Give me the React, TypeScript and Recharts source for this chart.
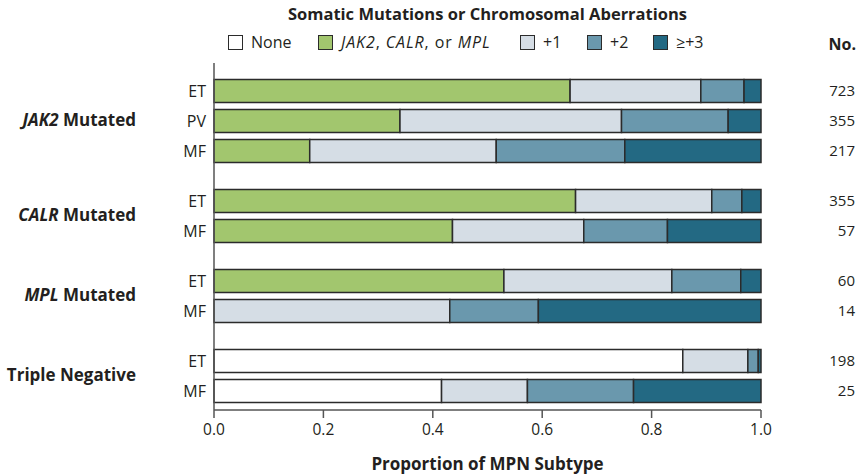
import React from 'react'
import { Bar, BarChart, XAxis, YAxis } from 'recharts'

// rows, top to bottom
const subtypes = ['ET', 'PV', 'MF', 'ET', 'MF', 'ET', 'MF', 'ET', 'MF']
const groupOf = [0, 0, 0, 1, 1, 2, 2, 3, 3]
const counts = [723, 355, 217, 355, 57, 60, 14, 198, 25]

const noneValues = [0, 0, 0, 0, 0, 0, 0, 0.857, 0.416]
const driverValues = [0.651, 0.34, 0.175, 0.661, 0.436, 0.53, 0, 0, 0]
const plus1Values = [0.239, 0.405, 0.341, 0.249, 0.24, 0.307, 0.431, 0.119, 0.157]
const plus2Values = [0.079, 0.195, 0.235, 0.055, 0.153, 0.126, 0.162, 0.019, 0.194]
const plus3Values = [0.031, 0.06, 0.249, 0.035, 0.171, 0.037, 0.407, 0.005, 0.233]

const xTicks = [0, 0.2, 0.4, 0.6, 0.8, 1.0]

const palette = {
  none: '#ffffff',
  driver: '#a2c66e',
  plus1: '#d5dde5',
  plus2: '#6a98ad',
  plus3: '#236983',
  edge: '#2b2b2b',
  axis: '#555555',
  ink: '#231f20',
}

const font = '"Open Sans", "Noto Sans", sans-serif'
const groupGap = 2 / 3

const rows = subtypes.map((subtype, i) => ({
  pos: i + groupOf[i] * groupGap,
  subtype,
  count: counts[i],
  none: noneValues[i],
  driver: driverValues[i],
  plus1: plus1Values[i],
  plus2: plus2Values[i],
  plus3: plus3Values[i],
}))

const positions = rows.map((r) => r.pos)

const series = [
  { key: 'none', color: palette.none, left: 228, label: <>None</> },
  {
    key: 'driver',
    color: palette.driver,
    left: 318,
    label: (
      <span style={{ letterSpacing: 0.9 }}>
        <i>JAK2</i>, <i>CALR</i>, or <i>MPL</i>
      </span>
    ),
  },
  { key: 'plus1', color: palette.plus1, left: 520, label: <>+1</> },
  { key: 'plus2', color: palette.plus2, left: 587, label: <>+2</> },
  { key: 'plus3', color: palette.plus3, left: 653, label: <>≥+3</> },
]

const groupLabels = [
  <><i>JAK2</i> Mutated</>,
  <><i>CALR</i> Mutated</>,
  <><i>MPL</i> Mutated</>,
  <>Triple Negative</>,
]

const W = 862
const H = 476
const plotTop = 63
const plotBottom = 410
const domain: [number, number] = [-0.95, 10.62]
const posToY = (p: number) =>
  plotTop + ((p - domain[0]) / (domain[1] - domain[0])) * (plotBottom - plotTop)

function CountTick({ y, payload }: { y?: number; payload?: { value: number } }) {
  const row = rows.find((r) => Math.abs(r.pos - (payload?.value ?? -99)) < 1e-6)
  return (
    <text x={855} y={y} dy={5} textAnchor="end" fontSize={15} fill={palette.ink} fontFamily={font}>
      {row ? row.count : ''}
    </text>
  )
}

export default function App() {
  const groupCenters = groupLabels.map((_, g) => {
    const ps = rows.filter((_, i) => groupOf[i] === g).map((r) => r.pos)
    return posToY((Math.min(...ps) + Math.max(...ps)) / 2)
  })

  return (
    <div style={{ position: 'absolute', left: 0, top: 0, width: W, height: H, fontFamily: font, color: palette.ink, background: '#fff' }}>
      <div style={{ position: 'absolute', left: 214, width: 547, top: 2, textAlign: 'center', fontWeight: 700, fontSize: 16.5 }}>
        Somatic Mutations or Chromosomal Aberrations
      </div>
      {series.map((s) => (
        <div key={s.key} style={{ position: 'absolute', left: s.left, top: 31, display: 'flex', alignItems: 'center', fontSize: 16, whiteSpace: 'nowrap' }}>
          <span style={{ width: 13, height: 13, background: s.color, border: `1px solid ${palette.edge}`, marginRight: 8, display: 'inline-block' }} />
          <span>{s.label}</span>
        </div>
      ))}
      <div style={{ position: 'absolute', right: W - 856, top: 33, fontWeight: 700, fontSize: 16 }}>No.</div>
      {groupLabels.map((label, g) => (
        <div key={g} style={{ position: 'absolute', right: W - 136, top: groupCenters[g] - 13, fontWeight: 700, fontSize: 17, whiteSpace: 'nowrap' }}>
          {label}
        </div>
      ))}
      <div style={{ position: 'absolute', left: 0, top: 0 }}>
        <BarChart
          width={W}
          height={H}
          data={rows}
          layout="vertical"
          margin={{ top: plotTop, right: 0, bottom: 0, left: 0 }}
        >
          <XAxis
            type="number"
            domain={[0, 1]}
            ticks={xTicks}
            tickFormatter={(v: number) => v.toFixed(1)}
            height={H - plotBottom}
            tickSize={8}
            tickMargin={6}
            stroke={palette.axis}
            strokeWidth={1.5}
            tick={{ fill: palette.ink, fontSize: 15.5, fontFamily: font }}
            label={{ value: 'Proportion of MPN Subtype', position: 'insideBottom', offset: 6, fill: palette.ink, fontSize: 17, fontWeight: 700, fontFamily: font }}
          />
          <YAxis
            yAxisId="left"
            type="number"
            dataKey="pos"
            domain={domain}
            allowDataOverflow
            ticks={positions}
            interval={0}
            tickFormatter={(v: number) => rows.find((r) => Math.abs(r.pos - v) < 1e-6)?.subtype ?? ''}
            width={214}
            tickSize={0}
            tickMargin={8}
            tickLine={false}
            stroke={palette.axis}
            strokeWidth={1.5}
            tick={{ fill: palette.ink, fontSize: 16, fontFamily: font }}
          />
          <YAxis
            yAxisId="right"
            orientation="right"
            type="number"
            dataKey="pos"
            domain={domain}
            allowDataOverflow
            ticks={positions}
            interval={0}
            width={W - 761}
            axisLine={false}
            tickLine={false}
            tick={<CountTick />}
          />
          {series.map((s) => (
            <Bar
              key={s.key}
              yAxisId="left"
              dataKey={s.key}
              stackId="a"
              fill={s.color}
              stroke={palette.edge}
              strokeWidth={1.5}
              barSize={23}
              isAnimationActive={false}
            />
          ))}
        </BarChart>
      </div>
    </div>
  )
}
